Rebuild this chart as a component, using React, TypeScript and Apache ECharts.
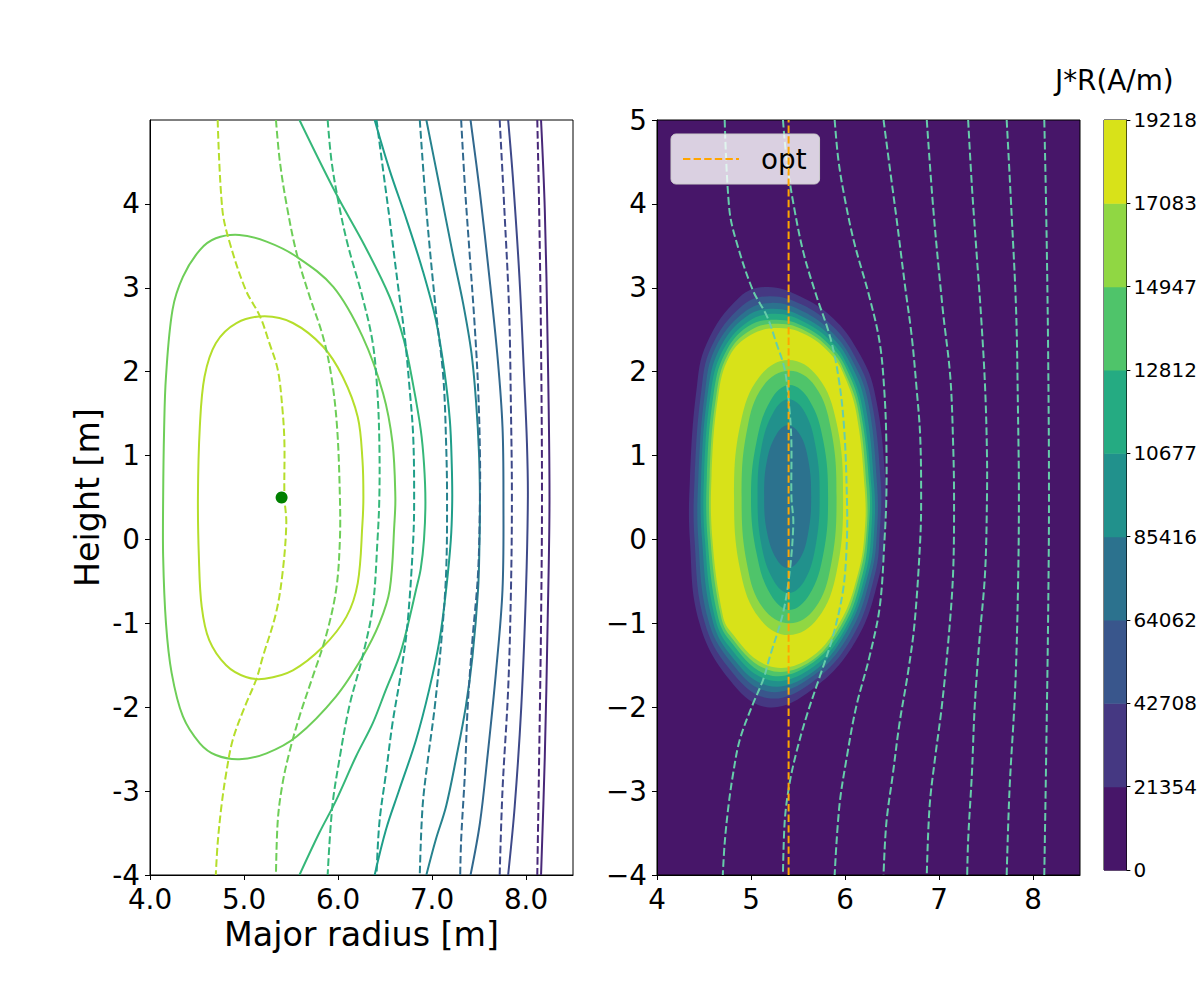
import React, { useEffect, useRef } from 'react';
import * as echarts from 'echarts';

const FONT = 'DejaVu Sans';

// ---------- axes ----------
const leftXTicks = [4, 5, 6, 7, 8];
const leftXTickLabels = ['4.0', '5.0', '6.0', '7.0', '8.0'];
const leftYTicks = [-4, -3, -2, -1, 0, 1, 2, 3, 4];
const leftYTickLabels = ['-4', '-3', '-2', '-1', '0', '1', '2', '3', '4'];
const rightXTicks = [4, 5, 6, 7, 8];
const rightXTickLabels = ['4', '5', '6', '7', '8'];
const rightYTicks = [-4, -3, -2, -1, 0, 1, 2, 3, 4, 5];
const rightYTickLabels = ['\u22124', '\u22123', '\u22122', '\u22121', '0', '1', '2', '3', '4', '5'];

// ---------- colorbar ----------
const jrLevels = [0, 21354, 42708, 64062, 85416, 106770, 128124, 149478, 170832, 192186];
const colorbarTickLabels = ['0', '21354', '42708', '64062', '85416', '10677', '12812', '14947', '17083', '19218'];
const bandColors = ['#471669', '#453882', '#39568c', '#2c728e', '#21918c', '#25ab82', '#4fc46a', '#90d743', '#d8e219'];

// ---------- psi contour colours ----------
const lineColors = ['#b5de2b', '#6ece58', '#35b779', '#1f9e89', '#26828e', '#31688e', '#3e4989', '#482878'];
const rightContourColor = '#66cdaa';

// ---------- solid contours (left) ----------
const solidInner = [[4.51,0.51],[4.53,1.34],[4.58,1.94],[4.70,2.34],[4.92,2.58],[5.22,2.66],[5.52,2.58],[5.84,2.30],[6.05,1.94],[6.21,1.46],[6.26,0.95],[6.27,0.51],[6.26,0.19],[6.21,-0.52],[6.09,-0.92],[5.84,-1.28],[5.52,-1.56],[5.22,-1.66],[5.02,-1.64],[4.81,-1.50],[4.63,-1.20],[4.55,-0.80],[4.52,-0.21]];
const solidOuter = [[4.14,0.51],[4.15,1.30],[4.17,1.94],[4.24,2.74],[4.35,3.13],[4.53,3.45],[4.70,3.59],[4.95,3.63],[5.24,3.55],[5.56,3.37],[5.95,3.01],[6.26,2.42],[6.48,1.74],[6.58,1.15],[6.61,0.51],[6.60,0.19],[6.55,-0.60],[6.44,-1.00],[6.26,-1.40],[5.98,-1.87],[5.56,-2.35],[5.24,-2.55],[4.95,-2.62],[4.70,-2.57],[4.53,-2.43],[4.35,-2.11],[4.23,-1.59],[4.17,-1.00],[4.14,-0.21]];
const solid3 = [[5.59,5.00],[5.98,4.12],[6.28,3.51],[6.55,2.89],[6.70,2.38],[6.80,1.84],[6.88,1.31],[6.915,0.90],[6.93,0.45],[6.915,0.00],[6.88,-0.35],[6.83,-0.60],[6.73,-1.08],[6.65,-1.40],[6.51,-1.79],[6.37,-2.19],[6.19,-2.59],[5.98,-3.11],[5.80,-3.50],[5.59,-4.00]];
const solid4 = [[6.39,5.00],[6.55,4.40],[6.73,3.81],[6.90,3.21],[7.04,2.62],[7.13,2.02],[7.19,1.42],[7.21,0.90],[7.215,0.45],[7.20,-0.01],[7.15,-0.60],[7.08,-1.20],[6.97,-1.79],[6.83,-2.39],[6.65,-2.99],[6.51,-3.46],[6.39,-4.00]];
const solid5 = [[6.94,5.00],[7.08,4.21],[7.22,3.41],[7.33,2.82],[7.42,2.22],[7.47,1.62],[7.50,1.03],[7.51,0.47],[7.505,-0.05],[7.49,-0.60],[7.43,-1.40],[7.36,-1.99],[7.26,-2.59],[7.15,-3.18],[7.04,-3.58],[6.94,-4.00]];
const solid6 = [[7.41,5.00],[7.51,4.13],[7.61,3.13],[7.70,2.14],[7.75,1.34],[7.76,0.51],[7.75,-0.60],[7.68,-1.59],[7.59,-2.59],[7.51,-3.38],[7.41,-4.00]];
const solid7 = [[7.81,5.00],[7.86,4.32],[7.93,3.13],[7.98,1.94],[8.01,1.15],[8.02,0.51],[8.00,-0.60],[7.95,-1.99],[7.88,-3.18],[7.81,-4.00]];
const solid8 = [[8.16,5.00],[8.20,3.93],[8.23,2.34],[8.25,0.51],[8.23,-1.00],[8.20,-2.59],[8.16,-4.00]];

// ---------- dashed contours (left, repeated on right) ----------
const dashed1 = [[4.72,5.00],[4.77,3.93],[4.85,3.53],[5.02,2.97],[5.17,2.66],[5.27,2.34],[5.36,2.02],[5.41,1.54],[5.43,1.15],[5.43,0.51],[5.45,0.19],[5.41,-0.40],[5.34,-0.88],[5.20,-1.40],[5.13,-1.67],[5.01,-1.99],[4.88,-2.39],[4.81,-2.79],[4.76,-3.18],[4.72,-3.62],[4.70,-4.00]];
const dashed2 = [[5.34,5.00],[5.38,4.52],[5.45,4.01],[5.56,3.41],[5.70,2.89],[5.84,2.42],[5.93,1.94],[5.99,1.34],[6.02,0.51],[6.02,-0.01],[5.98,-0.60],[5.87,-1.16],[5.73,-1.64],[5.59,-2.11],[5.48,-2.55],[5.41,-2.91],[5.36,-3.34],[5.34,-4.00]];
const dashed3 = [[5.89,5.00],[5.93,4.52],[6.00,4.05],[6.10,3.53],[6.26,2.89],[6.37,2.34],[6.42,1.74],[6.44,1.15],[6.44,0.51],[6.42,-0.01],[6.37,-0.80],[6.26,-1.40],[6.12,-1.99],[6.02,-2.59],[5.94,-3.18],[5.89,-4.00]];
const dashed4 = [[6.41,5.00],[6.48,4.40],[6.55,3.81],[6.64,3.01],[6.71,2.42],[6.76,1.82],[6.80,1.23],[6.81,0.47],[6.80,-0.01],[6.74,-1.00],[6.67,-1.59],[6.58,-2.19],[6.51,-2.79],[6.44,-3.38],[6.41,-4.00]];
const dashed5 = [[6.87,5.00],[6.94,3.93],[7.04,2.74],[7.12,1.94],[7.15,1.15],[7.16,0.51],[7.15,-0.40],[7.10,-1.20],[7.03,-1.99],[6.96,-2.59],[6.90,-3.18],[6.87,-4.00]];
const dashed6 = [[7.31,5.00],[7.35,4.21],[7.40,3.41],[7.45,2.62],[7.49,1.82],[7.51,1.03],[7.51,0.47],[7.49,-0.40],[7.43,-1.20],[7.38,-1.99],[7.35,-2.79],[7.31,-3.58],[7.30,-4.00]];
const dashed7 = [[7.72,5.00],[7.77,3.93],[7.82,2.74],[7.84,1.54],[7.85,0.51],[7.84,-0.60],[7.81,-1.79],[7.75,-2.99],[7.72,-4.00]];
const dashed8 = [[8.12,5.00],[8.14,3.93],[8.16,2.34],[8.17,0.51],[8.16,-1.00],[8.14,-2.59],[8.12,-4.00]];

const magneticAxis = [[5.40, 0.50]];
const optR = 5.40;
const optLine = [[optR, -4], [optR, 5]];

// ---------- J*R filled contour boundaries (right) ----------
const jrBoundary1 = [[5.17,3.01],[5.52,2.90],[5.87,2.64],[6.13,2.26],[6.31,1.78],[6.43,0.71],[6.42,0.10],[6.37,-0.41],[6.12,-1.20],[5.65,-1.79],[5.17,-2.00],[4.77,-1.67],[4.45,-0.99],[4.35,-0.01],[4.35,0.71],[4.42,1.78],[4.53,2.34],[4.88,2.89]];
const jrBoundary2 = [[5.20,2.90],[5.54,2.80],[5.87,2.54],[6.10,2.19],[6.27,1.72],[6.38,0.69],[6.37,0.10],[6.32,-0.41],[6.08,-1.16],[5.64,-1.71],[5.17,-1.89],[4.77,-1.54],[4.50,-0.96],[4.40,-0.01],[4.40,0.72],[4.47,1.76],[4.58,2.30],[4.91,2.79]];
const jrBoundary3 = [[5.22,2.82],[5.55,2.72],[5.87,2.46],[6.08,2.13],[6.24,1.67],[6.34,0.67],[6.34,0.10],[6.28,-0.41],[6.05,-1.12],[5.63,-1.65],[5.17,-1.81],[4.77,-1.44],[4.54,-0.94],[4.44,-0.01],[4.44,0.73],[4.51,1.75],[4.62,2.28],[4.93,2.71]];
const jrBoundary4 = [[5.24,2.75],[5.56,2.65],[5.87,2.40],[6.06,2.09],[6.21,1.64],[6.31,0.65],[6.31,0.10],[6.25,-0.40],[6.02,-1.09],[5.62,-1.61],[5.17,-1.74],[4.77,-1.36],[4.58,-0.92],[4.48,-0.01],[4.47,0.73],[4.54,1.74],[4.66,2.26],[4.94,2.65]];
const jrBoundary5 = [[5.26,2.69],[5.57,2.59],[5.87,2.34],[6.04,2.04],[6.18,1.60],[6.28,0.64],[6.28,0.10],[6.22,-0.40],[6.00,-1.07],[5.61,-1.56],[5.17,-1.67],[4.77,-1.28],[4.61,-0.90],[4.51,-0.01],[4.50,0.74],[4.57,1.73],[4.69,2.23],[4.96,2.59]];
const jrBoundary6 = [[5.27,2.62],[5.58,2.53],[5.87,2.28],[6.03,2.00],[6.16,1.57],[6.26,0.62],[6.25,0.10],[6.19,-0.40],[5.98,-1.04],[5.60,-1.51],[5.17,-1.61],[4.77,-1.20],[4.64,-0.88],[4.54,-0.01],[4.53,0.74],[4.60,1.72],[4.72,2.21],[4.97,2.54]];
const jrBoundary7 = [[5.29,2.57],[5.59,2.48],[5.87,2.23],[6.01,1.96],[6.14,1.54],[6.23,0.61],[6.23,0.10],[6.16,-0.40],[5.96,-1.02],[5.60,-1.48],[5.17,-1.55],[4.77,-1.14],[4.67,-0.86],[4.57,-0.01],[4.56,0.75],[4.63,1.71],[4.75,2.20],[4.99,2.49]];
const jrBoundary8 = [[5.30,2.52],[5.60,2.43],[5.87,2.18],[6.00,1.93],[6.12,1.51],[6.21,0.60],[6.21,0.10],[6.14,-0.40],[5.94,-1.00],[5.59,-1.44],[5.17,-1.50],[4.77,-1.08],[4.69,-0.85],[4.59,-0.01],[4.58,0.75],[4.65,1.70],[4.77,2.18],[5.00,2.44]];
const jrInner7 = [[5.98,0.50],[5.91,1.39],[5.71,1.94],[5.40,2.14],[5.09,1.94],[4.89,1.39],[4.82,0.50],[4.89,-0.39],[5.09,-0.94],[5.40,-1.14],[5.71,-0.94],[5.91,-0.39]];
const jrInner6 = [[5.91,0.51],[5.85,1.32],[5.68,1.83],[5.41,2.01],[5.13,1.83],[4.96,1.32],[4.90,0.51],[4.96,-0.31],[5.13,-0.82],[5.41,-1.00],[5.68,-0.82],[5.85,-0.31]];
const jrInner5 = [[5.82,0.50],[5.77,1.17],[5.62,1.66],[5.41,1.84],[5.21,1.66],[5.06,1.17],[5.00,0.50],[5.06,-0.17],[5.21,-0.66],[5.41,-0.84],[5.62,-0.66],[5.77,-0.17]];
const jrInner4 = [[5.73,0.52],[5.69,1.09],[5.57,1.52],[5.40,1.67],[5.24,1.52],[5.11,1.09],[5.07,0.52],[5.11,-0.06],[5.24,-0.49],[5.40,-0.64],[5.57,-0.49],[5.69,-0.06]];
const jrInner3 = [[5.64,0.51],[5.61,0.94],[5.52,1.25],[5.39,1.36],[5.27,1.25],[5.17,0.94],[5.14,0.51],[5.17,0.09],[5.27,-0.23],[5.39,-0.34],[5.52,-0.23],[5.61,0.09]];

const jrPolygons = [
  { points: jrBoundary1, color: bandColors[1] },
  { points: jrBoundary2, color: bandColors[2] },
  { points: jrBoundary3, color: bandColors[3] },
  { points: jrBoundary4, color: bandColors[4] },
  { points: jrBoundary5, color: bandColors[5] },
  { points: jrBoundary6, color: bandColors[6] },
  { points: jrBoundary7, color: bandColors[7] },
  { points: jrBoundary8, color: bandColors[8] },
  { points: jrInner7, color: bandColors[7] },
  { points: jrInner6, color: bandColors[6] },
  { points: jrInner5, color: bandColors[5] },
  { points: jrInner4, color: bandColors[4] },
  { points: jrInner3, color: bandColors[3] },
];

const solidLines = [solidInner, solidOuter, solid3, solid4, solid5, solid6, solid7, solid8];
const solidClosed = [true, true, false, false, false, false, false, false];
const dashedLines = [dashed1, dashed2, dashed3, dashed4, dashed5, dashed6, dashed7, dashed8];

const DASH = [7.7, 3.3];

const leftContours = [
  ...solidLines.map((pts, i) => ({ points: pts, color: lineColors[i], dash: null as any, closed: solidClosed[i] })),
  ...dashedLines.map((pts, i) => ({ points: pts, color: lineColors[i], dash: DASH, closed: false })),
];
const rightContours = dashedLines.map((pts) => ({ points: pts, color: rightContourColor, dash: DASH, closed: false }));

const lookup = (ticks: number[], labels: string[]) => (v: number) => {
  for (let i = 0; i < ticks.length; i++) if (Math.abs(ticks[i] - v) < 1e-6) return labels[i];
  return '';
};

const tickFont = { fontSize: 27.8, fontFamily: FONT, color: '#000' };

function valueAxis(grid: number, min: number, max: number, ticks: number[], labels: string[], extra: any = {}, labelExtra: any = {}) {
  return {
    gridIndex: grid,
    type: 'value',
    min,
    max,
    axisLine: { show: true, onZero: false, lineStyle: { color: '#000', width: 1 } },
    axisTick: { show: true, inside: false, length: 5, customValues: ticks, lineStyle: { color: '#000', width: 1 } },
    axisLabel: { show: true, customValues: ticks, formatter: lookup(ticks, labels), margin: 10, ...tickFont, ...labelExtra },
    splitLine: { show: false },
    ...extra,
  };
}

function contourSeries(list: any[], axisIndex: number, z: number) {
  return {
    type: 'custom', xAxisIndex: axisIndex, yAxisIndex: axisIndex, silent: true, z, clip: true,
    data: list.map(() => [6, 0.5]),
    renderItem: (params: any, api: any) => {
      const ln = list[params.dataIndex];
      const pts = ln.points.map((p: number[]) => api.coord(p));
      return {
        type: ln.closed ? 'polygon' : 'polyline',
        shape: { points: pts, smooth: 0.35 },
        style: { stroke: ln.color, lineWidth: 2, fill: ln.closed ? 'none' : null, lineDash: ln.dash },
      };
    },
  };
}

function buildOption() {
  const series: any[] = [];
  series.push(contourSeries(leftContours, 0, 2));
  series.push({
    type: 'scatter', xAxisIndex: 0, yAxisIndex: 0, data: magneticAxis, symbol: 'circle', symbolSize: 12,
    itemStyle: { color: '#008000', opacity: 1 }, silent: true, z: 5,
  });
  series.push({
    type: 'custom', xAxisIndex: 1, yAxisIndex: 1, silent: true, z: 1,
    data: jrPolygons.map(() => [5.4, 0.5]),
    renderItem: (params: any, api: any) => {
      const poly = jrPolygons[params.dataIndex];
      const pts = poly.points.map((p) => api.coord(p));
      return { type: 'polygon', shape: { points: pts, smooth: 0.4 }, style: { fill: poly.color, stroke: null } };
    },
  });
  series.push(contourSeries(rightContours, 1, 3));
  series.push({
    name: 'opt', type: 'line', xAxisIndex: 1, yAxisIndex: 1, data: optLine, symbol: 'none',
    lineStyle: { color: '#ffa500', width: 2, type: [7.4, 3.2] }, itemStyle: { color: '#ffa500' }, silent: true, z: 4,
  });
  series.push({
    type: 'custom', xAxisIndex: 2, yAxisIndex: 2, silent: true,
    data: bandColors.map((_, i) => [0.5, (jrLevels[i] + jrLevels[i + 1]) / 2]),
    renderItem: (params: any, api: any) => {
      const i = params.dataIndex;
      const p0 = api.coord([0, jrLevels[i]]);
      const p1 = api.coord([1, jrLevels[i + 1]]);
      return {
        type: 'rect',
        shape: { x: p0[0], y: p1[1], width: p1[0] - p0[0], height: p0[1] - p1[1] + 0.5 },
        style: { fill: bandColors[i] },
      };
    },
  });

  return {
    animation: false,
    backgroundColor: '#ffffff',
    title: {
      text: 'J*R(A/m)', left: 1055, top: 66, padding: 0,
      textStyle: { fontSize: 27.8, fontWeight: 'normal', fontFamily: FONT, color: '#000' },
    },
    legend: {
      data: ['opt'], left: 671, top: 134, padding: [11, 13, 11, 11], itemWidth: 56, itemHeight: 14,
      backgroundColor: 'rgba(255,255,255,0.8)', borderColor: '#cccccc', borderWidth: 1, borderRadius: 5,
      selectedMode: false,
      itemStyle: { opacity: 0, borderWidth: 0 },
      textStyle: { fontSize: 27.8, fontFamily: FONT, color: '#000', lineHeight: 28, padding: [0, 0, 0, 17] },
    },
    grid: [
      { left: 150, top: 120, width: 423, height: 755, show: true, borderColor: '#000', borderWidth: 1 },
      { left: 657, top: 120, width: 423, height: 755, show: true, borderColor: '#000', borderWidth: 1, backgroundColor: bandColors[0] },
      { left: 1104, top: 120, width: 25, height: 750, show: true, borderColor: '#000', borderWidth: 1 },
    ],
    xAxis: [
      valueAxis(0, 4, 8.5, leftXTicks, leftXTickLabels, {
        name: 'Major radius [m]', nameLocation: 'middle', nameGap: 42,
        nameTextStyle: { fontSize: 33.3, fontFamily: FONT, color: '#000' },
      }, { lineHeight: 20, margin: 14 }),
      valueAxis(1, 4, 8.5, rightXTicks, rightXTickLabels, {}, { lineHeight: 20, margin: 14 }),
      { gridIndex: 2, type: 'value', min: 0, max: 1, show: false },
    ],
    yAxis: [
      valueAxis(0, -4, 5, leftYTicks, leftYTickLabels, {
        name: 'Height [m]', nameLocation: 'middle', nameGap: 46, nameRotate: 90,
        nameTextStyle: { fontSize: 33.3, fontFamily: FONT, color: '#000' },
      }, { lineHeight: 20 }),
      valueAxis(1, -4, 5, rightYTicks, rightYTickLabels, {}, { lineHeight: 20 }),
      {
        gridIndex: 2, type: 'value', min: 0, max: 192186, position: 'right',
        axisLine: { show: true, onZero: false, lineStyle: { color: '#000', width: 1 } },
        axisTick: { show: true, length: 4, customValues: jrLevels, lineStyle: { color: '#000' } },
        axisLabel: { show: true, customValues: jrLevels, formatter: lookup(jrLevels, colorbarTickLabels), margin: 7, fontSize: 20, fontFamily: FONT, color: '#000' },
        splitLine: { show: false },
      },
    ],
    series,
  };
}

export default function App() {
  const ref = useRef<HTMLDivElement>(null);
  useEffect(() => {
    const chart = echarts.init(ref.current as HTMLDivElement, null, { renderer: 'svg' });
    chart.setOption(buildOption() as any);
    return () => chart.dispose();
  }, []);
  return <div ref={ref} style={{ position: 'absolute', left: 0, top: 0, width: 1200, height: 1000 }} />;
}
